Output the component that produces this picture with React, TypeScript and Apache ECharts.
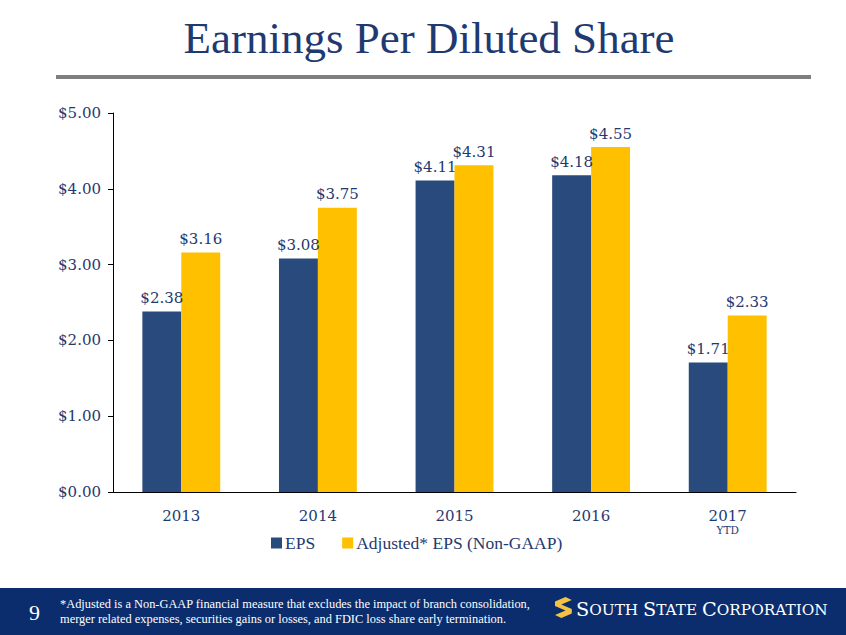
import React, { useEffect, useRef } from "react";
import * as echarts from "echarts";

const categories = ["2013", "2014", "2015", "2016", "2017"];
const epsValues = [2.38, 3.08, 4.11, 4.18, 1.71];
const adjustedValues = [3.16, 3.75, 4.31, 4.55, 2.33];
const seriesNames = ["EPS", "Adjusted* EPS (Non-GAAP)"];
const titleText = "Earnings Per Diluted Share";
const footnoteLines = [
  "*Adjusted is a Non-GAAP financial measure that excludes the impact of branch consolidation,",
  "merger related expenses, securities gains or losses, and FDIC loss share early termination.",
];
const pageNumber = "9";

const NAVY = "#1F3A70";
const EPS_COLOR = "#284A7C";
const ADJ_COLOR = "#FFC000";
const SERIF = "'DejaVu Serif', Georgia, serif";
const COND = "'Liberation Serif', 'Times New Roman', serif";

echarts.graphic.registerShape(
  "ssLogo",
  (echarts.graphic as any).extendPath(
    "M10 0 L16 4 L6 10 L16 16 L16 22 L6 28 L0 24 L10 18 L0 12 L0 6 Z",
    {}
  )
);

export default function App() {
  const ref = useRef<HTMLDivElement>(null);
  useEffect(() => {
    if (!ref.current) return;
    const chart = echarts.init(ref.current, null, { renderer: "svg" });
    chart.setOption({
      animation: false,
      backgroundColor: "#ffffff",
      grid: { left: 113, right: 50, top: 113, bottom: 143 },
      legend: {
        data: seriesNames,
        bottom: 78,
        left: 266,
        itemWidth: 11,
        itemHeight: 11,
        itemGap: 27,
        icon: "rect",
        textStyle: { color: NAVY, fontFamily: COND, fontSize: 17.5, padding: [0, 0, 0, -2] },
      },
      xAxis: {
        type: "category",
        data: categories,
        axisLine: { lineStyle: { color: "#000", width: 1 } },
        axisTick: { show: false },
        axisLabel: {
          margin: 16,
          color: NAVY,
          fontFamily: SERIF,
          fontSize: 15,
          formatter: (v: string) => (v === "2017" ? "{a|2017}\n{b|YTD}" : "{a|" + v + "}"),
          rich: {
            a: { color: NAVY, fontFamily: SERIF, fontSize: 15, lineHeight: 16 },
            b: { color: NAVY, fontFamily: SERIF, fontSize: 10.5, lineHeight: 11 },
          },
        },
      },
      yAxis: {
        type: "value",
        min: 0,
        max: 5,
        interval: 1,
        axisLine: { show: true, lineStyle: { color: "#000", width: 1 } },
        axisTick: { show: true, length: 5, lineStyle: { color: "#000" } },
        splitLine: { show: false },
        axisLabel: {
          margin: 12,
          color: NAVY,
          fontFamily: SERIF,
          fontSize: 15,
          formatter: (v: number) => "$" + v.toFixed(2),
        },
      },
      series: [
        {
          name: seriesNames[0],
          type: "bar",
          data: epsValues,
          barGap: "0%",
          barCategoryGap: "43%",
          itemStyle: { color: EPS_COLOR },
          label: {
            show: true,
            position: "top",
            distance: 6,
            color: NAVY,
            fontFamily: SERIF,
            fontSize: 15,
            formatter: (p: any) => "$" + p.value.toFixed(2),
          },
        },
        {
          name: seriesNames[1],
          type: "bar",
          data: adjustedValues,
          itemStyle: { color: ADJ_COLOR },
          label: {
            show: true,
            position: "top",
            distance: 6,
            color: NAVY,
            fontFamily: SERIF,
            fontSize: 15,
            formatter: (p: any) => "$" + p.value.toFixed(2),
          },
        },
      ],
      graphic: [
        {
          type: "text",
          x: 429,
          y: 15,
          style: {
            text: titleText,
            fill: NAVY,
            font: "45px " + COND,
            textAlign: "center",
          },
        },
        {
          type: "rect",
          shape: { x: 56, y: 75, width: 755, height: 4 },
          style: { fill: "#7F7F7F" },
        },
        {
          type: "rect",
          shape: { x: 0, y: 588, width: 846, height: 47 },
          style: { fill: "#0B2D6E" },
        },
        {
          type: "text",
          x: 29,
          y: 601,
          style: { text: pageNumber, fill: "#fff", font: "22px " + COND },
        },
        {
          type: "text",
          x: 60,
          y: 596,
          style: {
            text: footnoteLines.join("\n"),
            fill: "#fff",
            font: "12.4px " + COND,
            lineHeight: 15,
          },
        },
        {
          type: "ssLogo",
          x: 555,
          y: 597,
          scaleX: 1.05,
          scaleY: 0.75,
          style: { fill: "#F5C242" },
        },
        {
          type: "text",
          x: 576,
          y: 600,
          style: {
            text: "{a|S}{b|OUTH }{a|S}{b|TATE }{a|C}{b|ORPORATION}",
            fill: "#fff",
            rich: {
              a: { fill: "#fff", font: "19.3px " + SERIF },
              b: { fill: "#fff", font: "15.3px " + SERIF },
            },
          } as any,
        },
      ],
    } as any);
    return () => chart.dispose();
  }, []);
  return <div ref={ref} style={{ width: 846, height: 635, position: "absolute", left: 0, top: 0 }} />;
}
